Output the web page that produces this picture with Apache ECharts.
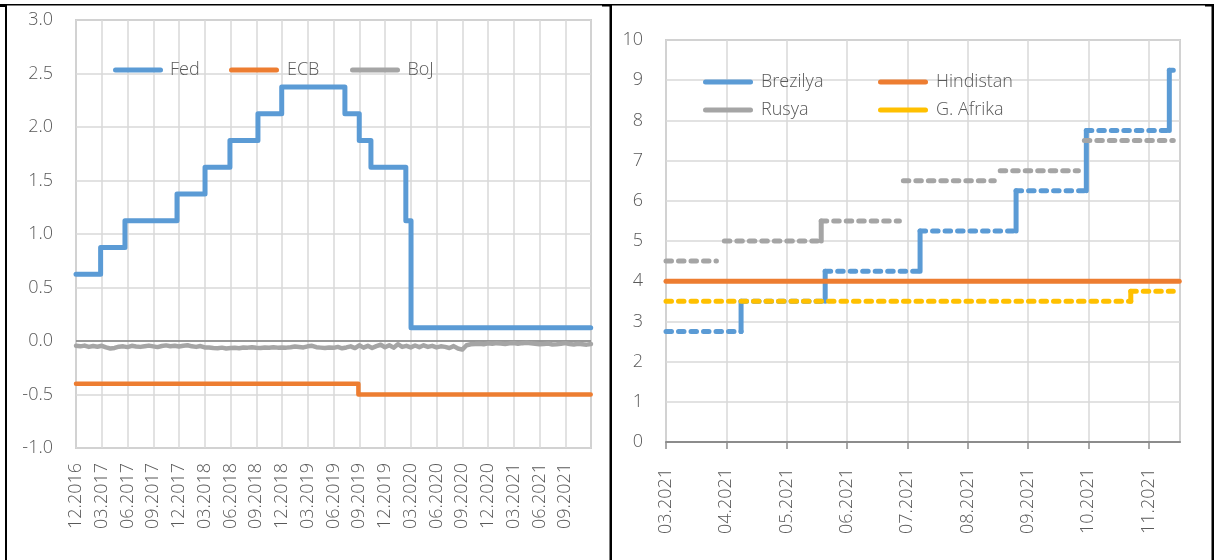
<!DOCTYPE html>
<html>
<head>
<meta charset="utf-8">
<script src="https://cdn.jsdelivr.net/npm/echarts@6/dist/echarts.min.js"></script>
<style>
html,body{margin:0;padding:0;background:#fff;}
#c{width:1215px;height:560px;}
</style>
</head>
<body>
<div id="c"></div>
<script>
// ---------------- LEFT CHART DATA (policy rates, %) ----------------
const leftAxisStart = '2016-12-15';          // first observation; ticks every 3 months from here
const fedDates = ['2016-12-15','2017-03-11','2017-06-06','2017-12-08','2018-03-16','2018-06-13','2018-09-21','2018-12-14','2019-07-25','2019-09-15','2019-10-26','2020-02-28','2020-03-16','2021-12-14'];
const fedRates = [0.625,0.875,1.125,1.375,1.625,1.875,2.125,2.375,2.125,1.875,1.625,1.125,0.125,0.125];
const ecbDates = ['2016-12-15','2019-09-12','2021-12-14'];
const ecbRates = [-0.40,-0.50,-0.50];
// BoJ: half-monthly observations starting at leftAxisStart
const bojRates = [
 -0.045,-0.050,-0.043,-0.055,-0.047,-0.053,-0.045,
 -0.060,-0.070,-0.065,-0.053,-0.050,-0.057,-0.045,-0.051,
 -0.055,-0.049,-0.043,-0.050,-0.057,-0.047,-0.041,-0.049,-0.045,-0.052,
 -0.045,-0.040,-0.050,-0.055,-0.047,-0.060,
 -0.060,-0.065,-0.068,-0.062,-0.070,-0.066,-0.064,-0.068,-0.060,-0.062,-0.058,-0.064,-0.066,-0.060,-0.063,-0.058,-0.062,-0.060,
 -0.062,-0.058,-0.052,-0.056,-0.060,-0.050,-0.045,-0.058,-0.062,-0.066,-0.060,-0.064,
 -0.055,-0.068,-0.060,-0.050,-0.066,-0.040,-0.062,-0.045,-0.065,-0.048,-0.035,-0.058,-0.040,-0.062,-0.030,-0.055,-0.045,-0.060,-0.042,-0.058,
 -0.040,-0.055,-0.045,-0.060,-0.050,-0.055,-0.065,-0.048,-0.070,-0.080,-0.040,
 -0.030,-0.028,-0.025,-0.030,-0.022,-0.026,-0.020,-0.024,-0.028,-0.022,-0.018,-0.025,-0.020,-0.016,-0.022,-0.026,-0.030,-0.028,-0.024,-0.032,-0.030,-0.026,-0.020,-0.028,-0.032,-0.026,-0.030,-0.034,
 -0.028
];
const leftNames = ['Fed','ECB','BoJ'];

// ---------------- RIGHT CHART DATA (policy rates, %) ----------------
const rightAxisStart = '2021-03-27';
const brStart = ['2021-03-27','2021-05-04','2021-06-16','2021-08-03','2021-09-21','2021-10-26','2021-12-07'];
const brEnd   = ['2021-05-04','2021-06-16','2021-08-03','2021-09-21','2021-10-26','2021-12-07','2021-12-09'];
const brRates = [2.75,3.5,4.25,5.25,6.25,7.75,9.25];
const inStart = ['2021-03-27'];
const inEnd   = ['2021-12-12'];
const inRates = [4.0];
const ruStart = ['2021-03-27','2021-04-26','2021-06-14','2021-07-25','2021-09-13','2021-10-25'];
const ruEnd   = ['2021-04-22','2021-06-14','2021-07-23','2021-09-10','2021-10-22','2021-12-09'];
const ruRates = [4.5,5.0,5.5,6.5,6.75,7.5];
const saStart = ['2021-03-27','2021-11-18'];
const saEnd   = ['2021-11-18','2021-12-09'];
const saRates = [3.5,3.75];
const rightNames = ['Brezilya','Hindistan','Rusya','G. Afrika'];

// ---------------- helpers ----------------
function monthsFrom(base, s){
  const b = base.split('-').map(Number), t = s.split('-').map(Number);
  return (t[0]-b[0])*12 + (t[1]-b[1]) + (t[2]-b[2])/30.44;
}
const LX = s => monthsFrom(leftAxisStart, s);
const RX = s => monthsFrom(rightAxisStart, s);
function monthLabel(baseY, baseM, v){
  if (Math.abs(v - Math.round(v)) > 1e-6) return '';
  const total = baseY*12 + (baseM-1) + Math.round(v);
  const y = Math.floor(total/12), m = total%12 + 1;
  return (m<10?'0':'')+m+'.'+y;
}
// Build horizontal (dashed) and vertical (solid) parts of a step series
function stepParts(starts, ends, rates){
  const hor = [], ver = [];
  for (let i=0;i<rates.length;i++){
    hor.push([RX(starts[i]), rates[i]], [RX(ends[i]), rates[i]], [RX(ends[i]), '-']);
    if (i < rates.length-1 && ends[i] === starts[i+1]){
      const x = RX(ends[i]);
      ver.push([x, rates[i]], [x, rates[i+1]], [x, '-']);
    }
  }
  return {hor, ver};
}

const TXT = '#595959';
const FONT = "'Open Sans', 'Noto Sans', sans-serif";
const GRIDC = '#D9D9D9';
const BLUE='#5B9BD5', ORANGE='#ED7D31', GREY='#A5A5A5', YELLOW='#FFC000';
const DASH = [5.5, 7];
const pill = 'path://M5 0H95A5 5 0 0 1 95 10H5A5 5 0 0 1 5 0Z';

const br = stepParts(brStart, brEnd, brRates);
const ind = stepParts(inStart, inEnd, inRates);
const ru = stepParts(ruStart, ruEnd, ruRates);
const sa = stepParts(saStart, saEnd, saRates);

const chart = echarts.init(document.getElementById('c'), null, {renderer:'canvas'});
const legendText = {color: TXT, fontSize: 18, fontFamily: FONT, fontWeight: 300, lineHeight: 22};
function legendAt(names, left, top, w, orient){
  return {data: names, left: left, top: top, padding: 0, icon: pill, itemWidth: w, itemHeight: 5, itemGap: 6,
    orient: orient || 'horizontal', itemStyle: {borderWidth: 0}, textStyle: legendText, selectedMode: false};
}

chart.setOption({
  animation: false,
  textStyle: {fontFamily: FONT},
  grid: [
    {left: 76, top: 20, width: 515, height: 428, show: true, borderColor: '#ABABAB', borderWidth: 1.5, containLabel: false},
    {left: 666, top: 40, width: 514, height: 402, show: true, borderColor: '#ABABAB', borderWidth: 1.5, containLabel: false}
  ],
  legend: [
    legendAt([leftNames[0]], 113, 59, 54),
    legendAt([leftNames[1]], 229, 59, 56),
    legendAt([leftNames[2]], 350, 59, 55),
    legendAt([rightNames[0], rightNames[2]], 703, 71, 56, 'vertical'),
    legendAt([rightNames[1], rightNames[3]], 878, 71, 56, 'vertical')
  ],
  xAxis: [
    {gridIndex: 0, type: 'value', min: 0, max: 60, interval: 3,
     axisLine: {show: false, onZero: false}, axisTick: {show: false},
     splitLine: {show: true, lineStyle: {color: GRIDC, width: 1.5}},
     axisLabel: {rotate: 90, margin: 15, color: TXT, fontSize: 18, fontWeight: 300, fontFamily: FONT, showMaxLabel: false,
       formatter: v => monthLabel(2016, 12, v)}},
    {gridIndex: 1, type: 'value', min: 0, max: 8.52, interval: 1,
     axisLine: {show: true, onZero: false, lineStyle: {color: '#8C8C8C', width: 2}},
     axisTick: {show: true, length: 7, lineStyle: {color: '#8C8C8C', width: 1.5}},
     splitLine: {show: true, lineStyle: {color: GRIDC, width: 1.5}},
     axisLabel: {rotate: 90, margin: 26, color: TXT, fontSize: 18, fontWeight: 300, fontFamily: FONT, showMaxLabel: false,
       formatter: v => monthLabel(2021, 3, v)}}
  ],
  yAxis: [
    {gridIndex: 0, type: 'value', min: -1, max: 3, interval: 0.5,
     axisLine: {show: false}, axisTick: {show: false},
     splitLine: {show: true, lineStyle: {color: GRIDC, width: 1.5}},
     axisLabel: {margin: 23, color: TXT, fontSize: 18, fontWeight: 300, fontFamily: FONT, formatter: v => v.toFixed(1)}},
    {gridIndex: 1, type: 'value', min: 0, max: 10, interval: 1,
     axisLine: {show: false}, axisTick: {show: false},
     splitLine: {show: true, lineStyle: {color: GRIDC, width: 1.5}},
     axisLabel: {margin: 23, color: TXT, fontSize: 18, fontWeight: 300, fontFamily: FONT}}
  ],
  series: [
    {name: 'Fed', type: 'line', xAxisIndex: 0, yAxisIndex: 0, step: 'end', symbol: 'none', color: BLUE,
     lineStyle: {width: 5, color: BLUE, cap: 'round', join: 'round'},
     data: fedDates.map((d,i) => [LX(d), fedRates[i]]),
     markLine: {silent: true, symbol: 'none', label: {show: false}, z: 1,
       lineStyle: {color: '#7F7F7F', width: 1.5, type: 'solid'}, data: [{yAxis: 0}]}},
    {name: 'ECB', type: 'line', xAxisIndex: 0, yAxisIndex: 0, step: 'end', symbol: 'none', color: ORANGE,
     lineStyle: {width: 4.5, color: ORANGE, cap: 'round', join: 'round'},
     data: ecbDates.map((d,i) => [LX(d), ecbRates[i]])},
    {name: 'BoJ', type: 'line', xAxisIndex: 0, yAxisIndex: 0, symbol: 'none', color: GREY,
     lineStyle: {width: 4.5, color: GREY, cap: 'round', join: 'round'},
     data: bojRates.map((v,i) => [i*0.5, v])},

    {name: 'Brezilya', type: 'line', xAxisIndex: 1, yAxisIndex: 1, symbol: 'none', color: BLUE, connectNulls: false,
     lineStyle: {width: 5, color: BLUE, type: DASH, cap: 'round', join: 'round'}, data: br.hor},
    {name: 'Brezilya', type: 'line', xAxisIndex: 1, yAxisIndex: 1, symbol: 'none', color: BLUE, connectNulls: false,
     lineStyle: {width: 5, color: BLUE, cap: 'round', join: 'round'}, data: br.ver},
    {name: 'Hindistan', type: 'line', xAxisIndex: 1, yAxisIndex: 1, symbol: 'none', color: ORANGE, connectNulls: false,
     lineStyle: {width: 5, color: ORANGE, cap: 'round', join: 'round'}, data: ind.hor},
    {name: 'Rusya', type: 'line', xAxisIndex: 1, yAxisIndex: 1, symbol: 'none', color: GREY, connectNulls: false,
     lineStyle: {width: 5, color: GREY, type: DASH, cap: 'round', join: 'round'}, data: ru.hor},
    {name: 'Rusya', type: 'line', xAxisIndex: 1, yAxisIndex: 1, symbol: 'none', color: GREY, connectNulls: false,
     lineStyle: {width: 5, color: GREY, cap: 'round', join: 'round'}, data: ru.ver},
    {name: 'G. Afrika', type: 'line', xAxisIndex: 1, yAxisIndex: 1, symbol: 'none', color: YELLOW, connectNulls: false,
     lineStyle: {width: 5, color: YELLOW, type: DASH, cap: 'round', join: 'round'}, data: sa.hor},
    {name: 'G. Afrika', type: 'line', xAxisIndex: 1, yAxisIndex: 1, symbol: 'none', color: YELLOW, connectNulls: false,
     lineStyle: {width: 5, color: YELLOW, cap: 'round', join: 'round'}, data: sa.ver}
  ],
  graphic: [
    {type: 'rect', silent: true, shape: {x: 0, y: 4, width: 1214, height: 1.5}, style: {fill: '#000'}},
    {type: 'rect', silent: true, shape: {x: 0, y: 4, width: 6, height: 3}, style: {fill: '#000'}},
    {type: 'rect', silent: true, shape: {x: 5, y: 4, width: 2, height: 556}, style: {fill: '#000'}},
    {type: 'rect', silent: true, shape: {x: 602, y: 5, width: 9, height: 1.5}, style: {fill: '#000'}},
    {type: 'rect', silent: true, shape: {x: 609.5, y: 4, width: 2.5, height: 556}, style: {fill: '#000'}},
    {type: 'rect', silent: true, shape: {x: 1205, y: 5, width: 8, height: 1.5}, style: {fill: '#000'}},
    {type: 'rect', silent: true, shape: {x: 1211.5, y: 4, width: 2.5, height: 556}, style: {fill: '#000'}}
  ]
});
</script>
</body>
</html>
